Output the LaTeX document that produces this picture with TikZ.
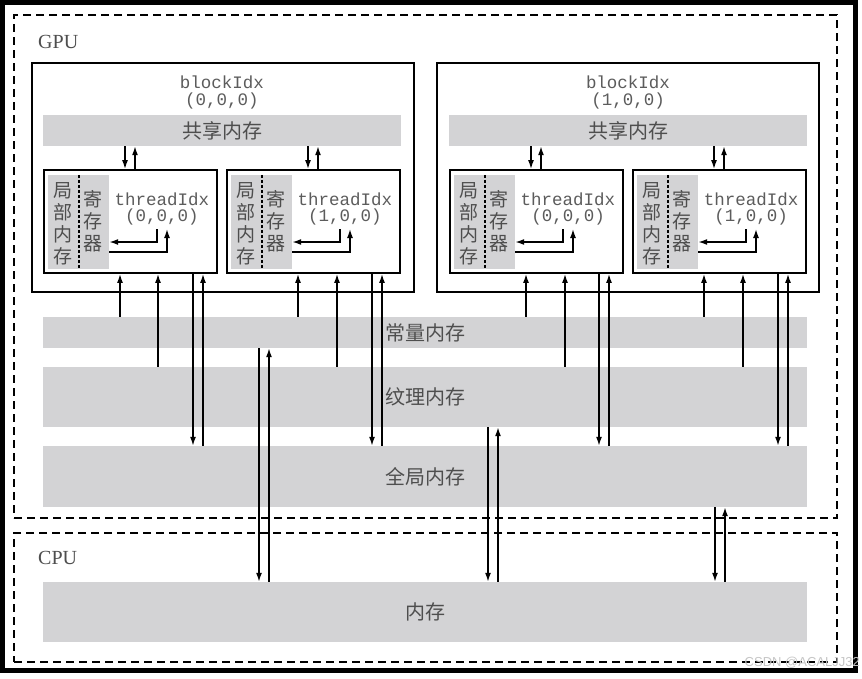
\documentclass[tikz,border=0pt]{standalone}
\usepackage{fontspec}
\setmainfont{Liberation Serif}
\setmonofont{Liberation Mono}
\newfontfamily\cjk{Noto Sans CJK SC}
\newfontfamily\wmfont{Liberation Sans}
\usetikzlibrary{arrows.meta}
\definecolor{memgray}{RGB}{211,211,213}
\definecolor{txt}{RGB}{78,78,78}
\definecolor{monotxt}{RGB}{92,92,92}
\begin{document}
\begin{tikzpicture}[x=1pt,y=-1pt,
  box/.style={draw=black,line width=1.8pt,inner sep=0pt,fill=white},
  dbox/.style={draw=black,line width=1.6pt,dash pattern=on 8pt off 5pt,inner sep=0pt},
  mem/.style={fill=memgray,inner sep=0pt,text=txt,font=\cjk\fontsize{20}{24}\selectfont},
  arr/.style={line width=1.5pt,-{Latex[length=9pt,width=6pt]}},
  mono/.style={font=\ttfamily\fontsize{17.5}{20}\selectfont,text=monotxt,inner sep=0pt,anchor=base},
  monotop/.style={mono,text depth=0pt},
  monobot/.style={mono,text height=11pt},
  lbl/.style={font=\fontsize{20}{24}\selectfont,text=txt,inner sep=0pt},
  vtxt/.style={font=\cjk\fontsize{19}{22}\selectfont,text=txt,align=center,inner sep=0pt},
]
\useasboundingbox (0,0) rectangle (862,678);
\fill[white] (0,0) rectangle (862,678);
\draw[line width=5pt] (2.5,2.5) rectangle (855,670);

% GPU and CPU regions
\node[dbox,minimum width=823pt,minimum height=503pt] (gpu) at (425.5,266.5) {};
\node[dbox,minimum width=823pt,minimum height=129pt] (cpu) at (425.5,597.5) {};
\node[lbl,anchor=west] (gpulbl) at (38,42) {GPU};
\node[lbl,anchor=west] (cpulbl) at (38,558) {CPU};

% blocks
\node[box,minimum width=382pt,minimum height=229pt] (blk0) at (223,177.5) {};
\node[box,minimum width=382pt,minimum height=229pt] (blk1) at (628,177.5) {};
\node[monotop] (bi0) at (222,88) {blockIdx};
\node[monobot] (bc0) at (222,105) {(0,0,0)};
\node[monotop] (bi1) at (628,88) {blockIdx};
\node[monobot] (bc1) at (628,105) {(1,0,0)};
\node[mem,minimum width=358pt,minimum height=31pt] (sh0) at (222,130.5) {共享内存};
\node[mem,minimum width=358pt,minimum height=31pt] (sh1) at (628,130.5) {共享内存};

% big memories
\node[mem,minimum width=764pt,minimum height=31pt] (const) at (425,332.5) {常量内存};
\node[mem,minimum width=764pt,minimum height=60pt] (tex) at (425,397) {纹理内存};
\node[mem,minimum width=764pt,minimum height=61pt] (glob) at (425,476.5) {全局内存};
\node[mem,minimum width=764pt,minimum height=60pt] (ram) at (425,612) {内存};

% threads
\foreach \n/\x/\c/\s in {t00/44/0/sh0,t01/227/1/sh0,t10/450/0/sh1,t11/633/1/sh1}{
  \pgfmathsetmacro\xc{\x+86.5}
  \pgfmathsetmacro\xgc{\x+34.5}
  \pgfmathsetmacro\xd{\x+35}
  \pgfmathsetmacro\xl{\x+19}
  \pgfmathsetmacro\xr{\x+49}
  \pgfmathsetmacro\xt{\x+118}
  \pgfmathsetmacro\xa{\x+113}
  \pgfmathsetmacro\xb{\x+123}
  \pgfmathsetmacro\xdn{\x+81}
  \pgfmathsetmacro\xup{\x+91}
  \node[box,minimum width=173pt,minimum height=103pt] (\n) at (\xc,221.5) {};
  \node[fill=memgray,inner sep=0pt,minimum width=61pt,minimum height=94pt] (\n gr) at (\xgc,222) {};
  \draw[line width=1.2pt,dash pattern=on 3pt off 2pt] (\n gr.north -| \xd,0) -- (\n gr.south -| \xd,0);
  \node[vtxt] (\n loc) at (\xl,224) {局\\部\\内\\存};
  \node[vtxt] (\n reg) at (\xr,221) {寄\\存\\器};
  \node[monotop] (\n idx) at (\xt,205) {threadIdx};
  \node[monobot] (\n crd) at (\xt,221.5) {(\c,0,0)};
  \draw[arr] (\xa,229) |- (\n gr.east |- 0,242);
  \draw[arr] (\n gr.east |- 0,252) -| (\xb,229);
  \draw[arr] (\s.south -| \xdn,0) -- (\n.north -| \xdn,0);
  \draw[arr] (\n.north -| \xup,0) -- (\s.south -| \xup,0);
}

% thread <-> device memories
\foreach \n/\a/\b/\cc/\d in {t00/120/158/193/203,t01/298/337/372/382,t10/526/565/599/609,t11/704/743/778/788}{
  \draw[arr] (const.north -| \a,0) -- (\n.south -| \a,0);
  \draw[arr] (tex.north -| \b,0) -- (\n.south -| \b,0);
  \draw[arr] (\n.south -| \cc,0) -- (glob.north -| \cc,0);
  \draw[arr] (glob.north -| \d,0) -- (\n.south -| \d,0);
}

% host <-> device memories
\draw[arr] (const.south -| 259,0) -- (ram.north -| 259,0);
\draw[arr] (ram.north -| 269,0) -- (const.south -| 269,0);
\draw[arr] (tex.south -| 488,0) -- (ram.north -| 488,0);
\draw[arr] (ram.north -| 498,0) -- (tex.south -| 498,0);
\draw[arr] (glob.south -| 715,0) -- (ram.north -| 715,0);
\draw[arr] (ram.north -| 725,0) -- (glob.south -| 725,0);

\node[font=\wmfont\fontsize{13}{15}\selectfont,text=gray!45,anchor=east,inner sep=0pt] (wm) at (860,663) {CSDN @ACALJJ32};
\end{tikzpicture}
\end{document}
